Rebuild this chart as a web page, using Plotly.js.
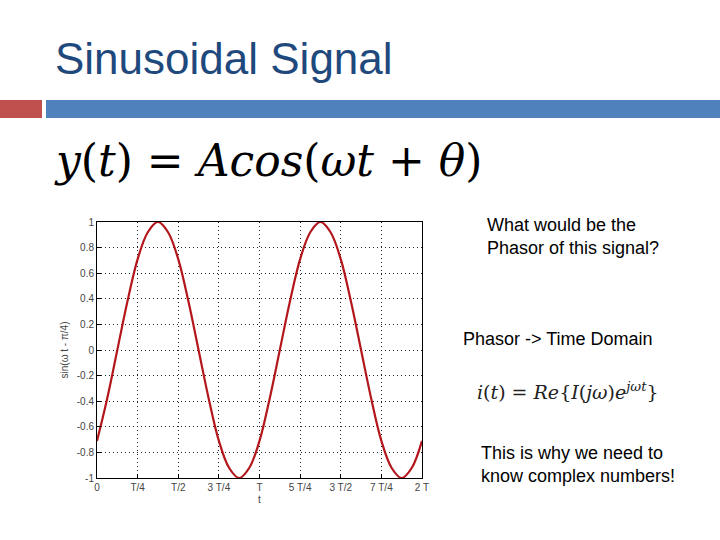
<!DOCTYPE html>
<html>
<head>
<meta charset="utf-8">
<script src="https://cdn.plot.ly/plotly-3.0.1.min.js"></script>
<style>html,body{margin:0;padding:0;background:#fff;}#chart{width:720px;height:540px;}</style>
</head>
<body>
<div id="chart"></div>
<script>
// time in units of the period T
const tValues = [0,0.0625,0.125,0.1875,0.25,0.3125,0.375,0.4375,0.5,0.5625,0.625,0.6875,0.75,0.8125,0.875,0.9375,1,
  1.0625,1.125,1.1875,1.25,1.3125,1.375,1.4375,1.5,1.5625,1.625,1.6875,1.75,1.8125,1.875,1.9375,2];
const yValues = [-0.71,-0.38,0,0.38,0.71,0.92,1,0.92,0.71,0.38,0,-0.38,-0.71,-0.92,-1,-0.92,-0.71,
  -0.38,0,0.38,0.71,0.92,1,0.92,0.71,0.38,0,-0.38,-0.71,-0.92,-1,-0.92,-0.71];
const xTickVals = [0,0.25,0.5,0.75,1,1.25,1.5,1.75,2];
const xTickText = ['0','T/4','T/2','3 T/4','T','5 T/4','3 T/2','7 T/4','2 T'];
const yTickVals = [-1,-0.8,-0.6,-0.4,-0.2,0,0.2,0.4,0.6,0.8,1];
const yTickText = ['-1','-0.8','-0.6','-0.4','-0.2','0','0.2','0.4','0.6','0.8','1'];

const slideTitle = 'Sinusoidal Signal';
const mainFormula = '<i>y</i>(<i>t</i>) = <i>A</i><i>cos</i>(<i>ωt</i> + <i>θ</i>)';
const question = 'What would be the<br>Phasor of this signal?';
const phasorText = 'Phasor -> Time Domain';
const phasorFormula = '<i>i</i>(<i>t</i>) = <i>Re</i>{<i>I</i>(<i>jω</i>)<i>e</i><sup><i>jωt</i></sup>}';
const closing = 'This is why we need to<br>know complex numbers!';

// plot area in pixels
const L = 97, R = 422, T = 222, B = 478;
const px = x => (x - L) / (R - L);
const py = y => (B - y) / (B - T);

const sans = 'Liberation Sans, Arial, sans-serif';
const serif = 'DejaVu Serif, serif';

const trace = {
  x: tValues, y: yValues, type: 'scatter', mode: 'lines',
  line: {color: '#b3161b', width: 2.2, shape: 'spline'},
  hoverinfo: 'skip'
};

const layout = {
  width: 720, height: 540,
  margin: {l: L, r: 720 - R, t: T, b: 540 - B, pad: 0},
  paper_bgcolor: '#ffffff', plot_bgcolor: '#ffffff',
  showlegend: false,
  xaxis: {
    range: [0, 2], tickvals: xTickVals, ticktext: xTickText,
    showgrid: true, gridcolor: '#222', griddash: '1px,3px', gridwidth: 1,
    showline: true, linecolor: '#000', linewidth: 1, mirror: true,
    ticks: 'inside', ticklen: 4, tickcolor: '#000',
    zeroline: false,
    tickfont: {family: sans, size: 10, color: '#444'},
    title: {text: 't', font: {family: sans, size: 10, color: '#444'}, standoff: 3}
  },
  yaxis: {
    range: [-1, 1], tickvals: yTickVals, ticktext: yTickText,
    showgrid: true, gridcolor: '#222', griddash: '1px,3px', gridwidth: 1,
    showline: true, linecolor: '#000', linewidth: 1, mirror: true,
    ticks: 'inside', ticklen: 4, tickcolor: '#000',
    zeroline: false,
    tickfont: {family: sans, size: 10, color: '#444'},
    title: {text: 'sin(ω t - π/4)', font: {family: sans, size: 10, color: '#444'}, standoff: 6}
  },
  shapes: [
    {type: 'rect', xref: 'paper', yref: 'paper', x0: px(0), x1: px(42), y0: py(118), y1: py(100),
     fillcolor: '#c0504d', line: {width: 0}, layer: 'below'},
    {type: 'rect', xref: 'paper', yref: 'paper', x0: px(46), x1: px(720), y0: py(118), y1: py(100),
     fillcolor: '#4f81bd', line: {width: 0}, layer: 'below'}
  ],
  annotations: [
    {text: slideTitle, xref: 'paper', yref: 'paper', x: px(53), y: py(58), xanchor: 'left', yanchor: 'middle',
     showarrow: false, font: {family: sans, size: 44, color: '#1f497d'}},
    {text: mainFormula, xref: 'paper', yref: 'paper', x: px(52), y: py(160), xanchor: 'left', yanchor: 'middle',
     showarrow: false, font: {family: serif, size: 44, color: '#000'}},
    {text: question, xref: 'paper', yref: 'paper', x: px(485), y: py(236), xanchor: 'left', yanchor: 'middle', align: 'left',
     showarrow: false, font: {family: sans, size: 18, color: '#000'}},
    {text: phasorText, xref: 'paper', yref: 'paper', x: px(461), y: py(339), xanchor: 'left', yanchor: 'middle',
     showarrow: false, font: {family: sans, size: 18, color: '#000'}},
    {text: phasorFormula, xref: 'paper', yref: 'paper', x: px(475), y: py(391), xanchor: 'left', yanchor: 'middle',
     showarrow: false, font: {family: serif, size: 19, color: '#222'}},
    {text: closing, xref: 'paper', yref: 'paper', x: px(479), y: py(464), xanchor: 'left', yanchor: 'middle', align: 'left',
     showarrow: false, font: {family: sans, size: 18, color: '#000'}}
  ]
};

Plotly.newPlot('chart', [trace], layout, {staticPlot: true, displayModeBar: false});
</script>
</body>
</html>
